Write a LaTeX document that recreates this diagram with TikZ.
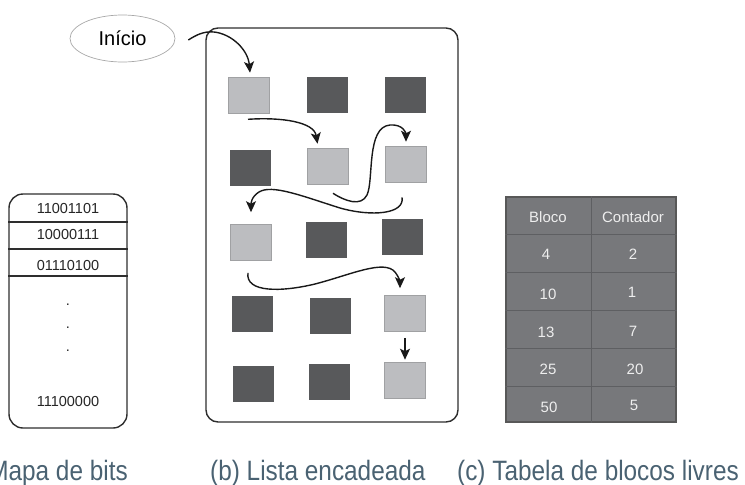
\documentclass[tikz,border=0pt]{standalone}
\usepackage{fontspec}
\setmainfont{Liberation Sans}
\newfontfamily\capfont[FakeStretch=0.87]{Liberation Sans}
\usetikzlibrary{arrows.meta,calc,shapes.geometric}
\definecolor{lightsq}{HTML}{BCBDC0}
\definecolor{darksq}{HTML}{58595B}
\definecolor{tabfill}{HTML}{77787B}
\definecolor{tabline}{HTML}{5E5F62}
\definecolor{tabtxt}{HTML}{EEEEEE}
\definecolor{captxt}{HTML}{4A6272}
\definecolor{ellline}{HTML}{A8A8A8}
\definecolor{boxline}{HTML}{2E2E2E}
\begin{document}
\begin{tikzpicture}[x=1pt,y=-1pt,
  sq/.style={minimum width=41pt,minimum height=36pt,inner sep=0pt},
  lsq/.style={sq,fill=lightsq,draw=lightsq!85!black,line width=0.6pt},
  dsq/.style={sq,fill=darksq},
  arr/.style={line width=1.4pt,draw=black!90,-{Stealth[length=11pt,width=10pt,inset=2.5pt]}},
  bittxt/.style={font=\fontsize{14.5}{16}\selectfont,text=black!85,inner sep=0pt},
  tabtxtst/.style={font=\fontsize{15}{17}\selectfont,text=tabtxt,inner sep=0pt},
  captst/.style={font=\capfont\fontsize{28}{32}\selectfont,text=captxt,inner sep=0pt},
  frame/.style={draw=boxline,line width=1.4pt,inner sep=0pt}
]
\useasboundingbox (0,0) rectangle (745,485);

% ---------- (a) bitmap ----------
\node[frame,rounded corners=14pt,minimum width=118pt,minimum height=234pt] (bm) at (68,311) {};
\draw[boxline,line width=1.4pt] (bm.west |- 0,222) -- (bm.east |- 0,222);
\draw[boxline,line width=1.4pt] (bm.west |- 0,249) -- (bm.east |- 0,249);
\draw[boxline,line width=1.4pt] (bm.west |- 0,276) -- (bm.east |- 0,276);
\node[bittxt] (b1) at (68,209) {11001101};
\node[bittxt] (b2) at (68,235) {10000111};
\node[bittxt] (b3) at (68,266) {01110100};
\node[bittxt,anchor=base] (d1) at (68,305) {.};
\node[bittxt,anchor=base] (d2) at (68,328) {.};
\node[bittxt,anchor=base] (d3) at (68,351) {.};
\node[bittxt] (b4) at (68,402) {11100000};

% ---------- (b) linked list ----------
\node[ellipse,draw=ellline,line width=0.7pt,minimum width=105pt,minimum height=47pt,inner sep=0pt,
      font=\fontsize{20}{22}\selectfont] (ini) at (122.5,38.5) {Início};
\node[frame,rounded corners=12pt,minimum width=252pt,minimum height=394pt] (lst) at (332,225) {};

\node[lsq] (s1)  at (249,95)    {};
\node[dsq] (s2)  at (327.5,95)  {};
\node[dsq] (s3)  at (405.5,95)  {};
\node[dsq] (s4)  at (250,168)   {};
\node[lsq] (s5)  at (327.5,166) {};
\node[lsq] (s6)  at (406,164)   {};
\node[lsq] (s7)  at (251,242.5) {};
\node[dsq] (s8)  at (326.5,240) {};
\node[dsq] (s9)  at (402.5,237) {};
\node[dsq] (s10) at (252,314)   {};
\node[dsq] (s11) at (330,315.5) {};
\node[lsq] (s12) at (405,313.5) {};
\node[dsq] (s13) at (253,384)   {};
\node[dsq] (s14) at (329,382)   {};
\node[lsq] (s15) at (405,380)   {};

\draw[arr] ([xshift=13pt,yshift=-1.5pt]ini.east) .. controls (196,35) and (204,31) .. (214,32)
      .. controls (232,34) and (248,50) .. ([xshift=1pt,yshift=4pt]s1.north);
\draw[arr] ([xshift=-1pt,yshift=-6pt]s1.south) .. controls (282,117) and (314,122) .. ([xshift=-10pt,yshift=4pt]s5.north);
\draw[arr] ([xshift=5.5pt,yshift=-9pt]s5.south) .. controls (345,201) and (361,207) .. (367,195)
      .. controls (374,180) and (366,127) .. (390,125)
      .. controls (403,124) and (406,133) .. ([xshift=0pt,yshift=4pt]s6.north);
\draw[arr] ([xshift=-4pt,yshift=-15pt]s6.south) .. controls (405,214) and (372,217) .. (340,208)
      .. controls (302,196) and (272,184) .. (259,192)
      .. controls (251,197) and (251,204) .. ([xshift=0pt,yshift=12pt]s7.north);
\draw[arr] ([xshift=-3pt,yshift=-12pt]s7.south) .. controls (245,293) and (282,292) .. (315,284)
      .. controls (350,275) and (384,259) .. (395,272)
      .. controls (399,277) and (400,282) .. ([xshift=-5pt,yshift=7pt]s12.north);
\draw[arr] ([yshift=-6pt]s12.south) -- ([yshift=2pt]s15.north);

% ---------- (c) free block table ----------
\node[draw=boxline!80,line width=1.2pt,fill=tabfill,minimum width=170pt,minimum height=225pt,inner sep=0pt] (tab) at (591,309.5) {};
\draw[tabline,line width=0.8pt] (tab.north) -- (tab.south);
\foreach \yy in {234,272,310,348,386}
  \draw[tabline,line width=0.8pt] (tab.west |- 0,\yy) -- (tab.east |- 0,\yy);
\node[tabtxtst] (h1) at (548,217) {Bloco};
\node[tabtxtst] (h2) at (633,217) {Contador};
\node[tabtxtst] (c11) at (546,254) {4};
\node[tabtxtst] (c12) at (633,254) {2};
\node[tabtxtst] (c21) at (548,294) {10};
\node[tabtxtst] (c22) at (632,292) {1};
\node[tabtxtst] (c31) at (546,332) {13};
\node[tabtxtst] (c32) at (633,331) {7};
\node[tabtxtst] (c41) at (548,369) {25};
\node[tabtxtst] (c42) at (635,369) {20};
\node[tabtxtst] (c51) at (549,407) {50};
\node[tabtxtst] (c52) at (634,405) {5};

% ---------- captions ----------
\node[captst,anchor=base east] (capa) at (128,480) {Mapa de bits};
\node[captst,anchor=base west] (capb) at (210,480) {(b) Lista encadeada};
\node[captst,anchor=base west] (capc) at (457,480) {(c) Tabela de blocos livres};
\end{tikzpicture}
\end{document}
